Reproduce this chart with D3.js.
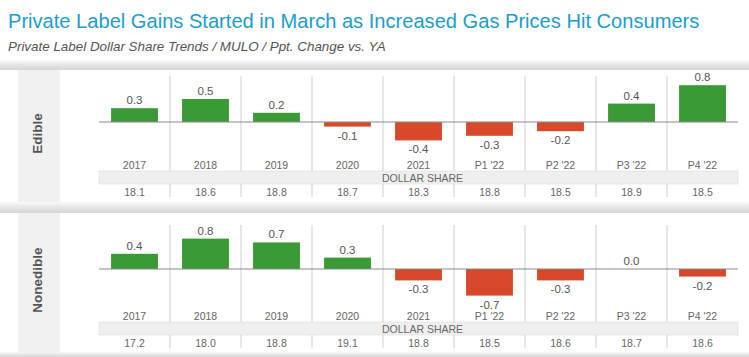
<!DOCTYPE html>
<html><head><meta charset="utf-8">
<script src="https://cdn.jsdelivr.net/npm/d3@7"></script>
<style>body{margin:0;background:#fff;}svg{display:block;font-family:"Liberation Sans",Arial,sans-serif;}</style>
</head><body>
<svg id="c" width="749" height="357"></svg>
<script>
const categories = ["2017","2018","2019","2020","2021","P1 '22","P2 '22","P3 '22","P4 '22"];
const edibleChange = [0.3,0.5,0.2,-0.1,-0.4,-0.3,-0.2,0.4,0.8];
const edibleShare = ["18.1","18.6","18.8","18.7","18.3","18.8","18.5","18.9","18.5"];
const nonedibleChange = [0.4,0.8,0.7,0.3,-0.3,-0.7,-0.3,0.0,-0.2];
const nonedibleShare = ["17.2","18.0","18.8","19.1","18.8","18.5","18.6","18.7","18.6"];
const panelNames = ["Edible","Nonedible"];

const svg = d3.select("#c");
const defs = svg.append("defs");
const g1 = defs.append("linearGradient").attr("id","sep").attr("x1",0).attr("x2",0).attr("y1",0).attr("y2",1);
g1.append("stop").attr("offset","0%").attr("stop-color","#fafafa");
g1.append("stop").attr("offset","60%").attr("stop-color","#e2e2e2");
g1.append("stop").attr("offset","100%").attr("stop-color","#d6d6d6");

svg.append("text").attr("x",8).attr("y",28).attr("font-size",20.1).attr("fill","#1c9dcc")
  .text("Private Label Gains Started in March as Increased Gas Prices Hit Consumers");
svg.append("text").attr("x",8).attr("y",51).attr("font-size",13.4).attr("font-style","italic").attr("fill","#555")
  .text("Private Label Dollar Share Trends / MULO / Ppt. Change vs. YA");

const x = d3.scaleBand().domain(categories).range([99,738]).paddingInner(0.34).paddingOuter(0.17);
const colX = i => 99 + i*(639/9);
const fmt = d => d3.format(".1f")(d).replace("\u2212","-");

const panels = [
  {name:panelNames[0], vals:edibleChange, share:edibleShare, top:70, bottom:203, y:d3.scaleLinear().domain([-1,1]).range([168,76]),
   divTop:76, catY:169, bandTop:171, bandBot:184, shareY:196},
  {name:panelNames[1], vals:nonedibleChange, share:nonedibleShare, top:213, bottom:353, y:d3.scaleLinear().domain([-1.2,1.2]).range([314.6,223.4]),
   divTop:225, catY:320, bandTop:322, bandBot:335, shareY:347}
];

[[60,70],[202,213],[352,357]].forEach(([a,b])=>{
  svg.append("rect").attr("x",0).attr("y",a).attr("width",749).attr("height",b-a).attr("fill","url(#sep)");
});

panels.forEach(p=>{
  const g = svg.append("g");
  g.append("rect").attr("x",18).attr("y",p.top).attr("width",42).attr("height",p.bottom-p.top - (p.name==="Edible"?1:0)).attr("fill","#f1f1f1");
  const cy = (p.top+p.bottom)/2 - 3;
  g.append("text").attr("transform",`translate(42,${cy}) rotate(-90)`).attr("text-anchor","middle")
    .attr("font-size",13.5).attr("font-weight","bold").attr("fill","#555").text(p.name);
  g.append("rect").attr("x",99).attr("y",p.bandTop).attr("width",639).attr("height",p.bandBot-p.bandTop)
    .attr("fill","#efefef").attr("stroke","#dcdcdc").attr("stroke-width",0.6);
  g.append("text").attr("x",colX(4)-1).attr("y",p.bandBot-2.5).attr("font-size",10.5).attr("fill","#666").text("DOLLAR SHARE");
  for(let i=1;i<9;i++){
    g.append("line").attr("x1",colX(i)).attr("x2",colX(i)).attr("y1",p.divTop).attr("y2",p.bandTop).attr("stroke","#cfcfcf").attr("stroke-width",1);
    g.append("line").attr("x1",colX(i)).attr("x2",colX(i)).attr("y1",p.bandBot).attr("y2",p.bandBot+13).attr("stroke","#cfcfcf").attr("stroke-width",1);
  }
  const y = p.y, y0 = y(0);
  g.selectAll("rect.bar").data(p.vals).enter().append("rect").attr("class","bar")
    .attr("x",(d,i)=>x(categories[i])).attr("width",x.bandwidth())
    .attr("y",d=>Math.min(y(d),y0)).attr("height",d=>Math.abs(y(d)-y0))
    .attr("fill",d=>d>=0?"#3a9b34":"#d8482a");
  g.append("line").attr("x1",99).attr("x2",738).attr("y1",y0).attr("y2",y0).attr("stroke","#8a8a8a").attr("stroke-width",1.2);
  g.selectAll("text.v").data(p.vals).enter().append("text").attr("class","v")
    .attr("x",(d,i)=>x(categories[i])+x.bandwidth()/2).attr("text-anchor","middle")
    .attr("y",d=>d>=0? y(d)-4 : y(d)+13)
    .attr("font-size",11.5).attr("fill","#555").text(d=>fmt(d));
  g.selectAll("text.cat").data(categories).enter().append("text").attr("class","cat")
    .attr("x",d=>x(d)+x.bandwidth()/2).attr("y",p.catY).attr("text-anchor","middle")
    .attr("font-size",10.5).attr("fill","#666").text(d=>d);
  g.selectAll("text.sh").data(p.share).enter().append("text").attr("class","sh")
    .attr("x",(d,i)=>x(categories[i])+x.bandwidth()/2).attr("y",p.shareY).attr("text-anchor","middle")
    .attr("font-size",10.5).attr("fill","#666").text(d=>d);
});
</script>
</body></html>
